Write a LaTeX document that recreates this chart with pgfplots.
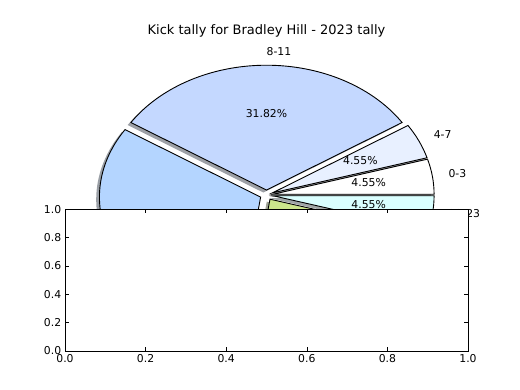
\documentclass[border=0pt]{standalone}
\usepackage{fontspec}
\setmainfont{DejaVu Sans}
\usepackage{pgfplots}
\pgfplotsset{compat=1.18}

% slice colours
\definecolor{c03}{RGB}{255,255,255}
\definecolor{c47}{RGB}{232,240,255}
\definecolor{c811}{RGB}{196,216,255}
\definecolor{c1215}{RGB}{180,213,255}
\definecolor{c1619}{RGB}{204,230,140}
\definecolor{c2023}{RGB}{218,255,255}
% shadow colours (0.3 x face colour)
\definecolor{s03}{RGB}{77,77,77}
\definecolor{s47}{RGB}{70,72,77}
\definecolor{s811}{RGB}{59,65,77}
\definecolor{s1215}{RGB}{54,64,77}
\definecolor{s1619}{RGB}{61,69,42}
\definecolor{s2023}{RGB}{65,77,77}

\newcommand{\pieRx}{178.56bp}
\newcommand{\pieRy}{138.24bp}
% #1 style, #2/#3 exploded centre, #4/#5 start point, #6/#7 angles
\newcommand{\slice}[7]{\filldraw[#1] (axis cs:#2,#3) -- (axis cs:#4,#5) arc[start angle=#6,end angle=#7,x radius=\pieRx,y radius=\pieRy] -- cycle;}
\newcommand{\shadowslice}[7]{\fill[#1,fill opacity=0.5,xshift=-3.571bp,yshift=-2.765bp] (axis cs:#2,#3) -- (axis cs:#4,#5) arc[start angle=#6,end angle=#7,x radius=\pieRx,y radius=\pieRy] -- cycle;}

\begin{document}
\begin{tikzpicture}
\path[use as bounding box] (0,0) rectangle (576bp,432bp);

% Kick counts per time bin (total 22): 0-3:1, 4-7:1, 8-11:7, 12-15:7, 16-19:5, 20-23:1
\begin{axis}[
  at={(72bp,43.2bp)}, anchor=south west,
  width=446.4bp, height=345.6bp, scale only axis,
  xmin=-1.25, xmax=1.25, ymin=-1.25, ymax=1.25,
  hide axis, clip=false,
]
% shadows
\shadowslice{s03}{0.03959}{0.00569}{1.03959}{0.00569}{0}{16.3636}
\shadowslice{s47}{0.03639}{0.01662}{0.99588}{0.29835}{16.3636}{32.7273}
\shadowslice{s811}{0}{0.04}{0.84125}{0.58064}{32.7273}{147.2727}
\shadowslice{s1215}{-0.03639}{-0.01662}{-0.87764}{0.52402}{147.2727}{261.8182}
\shadowslice{s1619}{0.02163}{-0.03365}{-0.12068}{-1.02347}{261.8182}{343.6364}
\shadowslice{s2023}{0.03959}{-0.00569}{0.99908}{-0.28742}{343.6364}{360}
% wedges
\slice{fill=c03,draw=black,line width=1bp}{0.03959}{0.00569}{1.03959}{0.00569}{0}{16.3636}
\slice{fill=c47,draw=black,line width=1bp}{0.03639}{0.01662}{0.99588}{0.29835}{16.3636}{32.7273}
\slice{fill=c811,draw=black,line width=1bp}{0}{0.04}{0.84125}{0.58064}{32.7273}{147.2727}
\slice{fill=c1215,draw=black,line width=1bp}{-0.03639}{-0.01662}{-0.87764}{0.52402}{147.2727}{261.8182}
\slice{fill=c1619,draw=black,line width=1bp}{0.02163}{-0.03365}{-0.12068}{-1.02347}{261.8182}{343.6364}
\slice{fill=c2023,draw=black,line width=1bp}{0.03959}{-0.00569}{0.99908}{-0.28742}{343.6364}{360}
% labels
\begin{scope}[every node/.style={font=\fontsize{12bp}{14bp}\selectfont, inner sep=0pt, text height=0.76em, text depth=0.21em}]
\node[anchor=west] at (axis cs:1.1284,0.1622) {0-3};
\node[anchor=west] at (axis cs:1.0370,0.4736) {4-7};
\node[anchor=west] at (axis cs:0.0,1.14) {8-11};
\node[anchor=east] at (axis cs:-1.0370,-0.4736) {12-15};
\node[anchor=west] at (axis cs:0.6163,-0.9590) {16-19};
\node[anchor=west] at (axis cs:1.1284,-0.1622) {20-23};
\node at (axis cs:0.6335,0.0911) {4.55\%};
\node at (axis cs:0.5822,0.2659) {4.55\%};
\node at (axis cs:0,0.64) {31.82\%};
\node at (axis cs:-0.5822,-0.2659) {31.82\%};
\node at (axis cs:0.3460,-0.5384) {22.73\%};
\node at (axis cs:0.6335,-0.0911) {4.55\%};
\end{scope}
\node[anchor=base, font=\fontsize{14.4bp}{17bp}\selectfont, inner sep=0pt] at (rel axis cs:0.5,1) [yshift=5bp] {Kick tally for Bradley Hill - 2023 tally};
\end{axis}

% empty subplot on top
\begin{axis}[
  at={(72bp,43.2bp)}, anchor=south west,
  width=446.4bp, height=157.09bp, scale only axis,
  xmin=0, xmax=1, ymin=0, ymax=1,
  xtick={0,0.2,0.4,0.6,0.8,1}, ytick={0,0.2,0.4,0.6,0.8,1},
  axis background/.style={fill=white},
  tick align=inside, major tick length=4bp,
  every tick/.style={black, line width=0.5bp},
  axis line style={line width=1bp},
  ticklabel style={font=\fontsize{12bp}{14bp}\selectfont, inner sep=0pt},
  xticklabel style={yshift=-4bp},
  yticklabel style={xshift=-4bp},
  /pgf/number format/.cd, fixed, fixed zerofill, precision=1, assume math mode=true,
]
\end{axis}
\end{tikzpicture}
\end{document}
